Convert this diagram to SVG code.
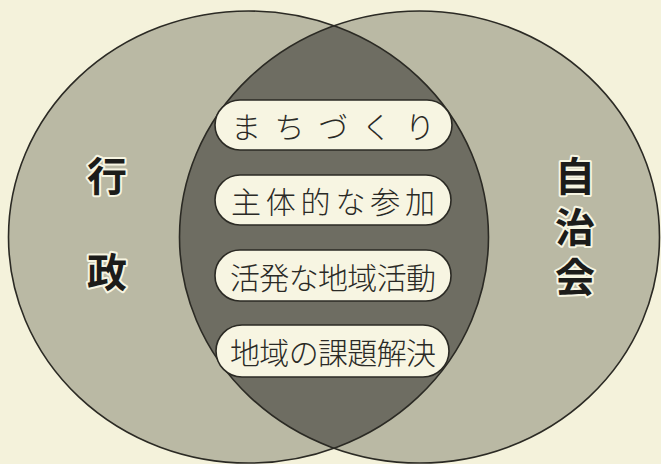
<svg xmlns="http://www.w3.org/2000/svg" width="661" height="464" viewBox="0 0 661 464">
<style>
.bg{fill:#f4f2db}
.circ{fill:#bab9a4}
.lens{fill:#6e6d62}
.outline{fill:none;stroke:#2b2a24;stroke-width:1.6}
.pill{fill:#f7f5e2;stroke:#2b2a24;stroke-width:1.6}
.pt{font-family:"Noto Sans CJK JP","Noto Sans",sans-serif;font-size:30px;font-weight:300;fill:#2a2a26;text-anchor:middle;dominant-baseline:central}
.big{font-family:"Noto Sans CJK JP","Noto Sans",sans-serif;font-size:40px;font-weight:bold;fill:#1c1c1a;stroke:#f7f5e2;stroke-width:4;stroke-linejoin:round;paint-order:stroke;writing-mode:vertical-rl;text-anchor:start}
</style>
<rect class="bg" x="0" y="0" width="661" height="464"/>
<g id="gyosei">
<ellipse class="circ" cx="248.5" cy="237" rx="240" ry="226"/>
</g>
<g id="jichikai">
<ellipse class="circ" cx="419.5" cy="237" rx="240" ry="226"/>
</g>
<g id="overlap">
<path class="lens" d="M334,25.8 A240,226 0 0,1 334,448.2 A240,226 0 0,1 334,25.8 Z"/>
</g>
<g id="outlines">
<ellipse class="outline" cx="248.5" cy="237" rx="240" ry="226"/>
<ellipse class="outline" cx="419.5" cy="237" rx="240" ry="226"/>
</g>
<g id="label-gyosei">
<text class="big" x="107" y="156" letter-spacing="56">行政</text>
</g>
<g id="label-jichikai">
<text class="big" x="575" y="156" letter-spacing="10.5">自治会</text>
</g>
<g id="pill1">
<rect class="pill" x="215" y="100" width="237" height="50" rx="25" ry="25"/>
<text class="pt" x="333" y="125" textLength="204" lengthAdjust="spacing">まちづくり</text>
</g>
<g id="pill2">
<rect class="pill" x="215" y="175" width="236" height="50" rx="25" ry="25"/>
<text class="pt" x="333" y="200" textLength="204" lengthAdjust="spacing">主体的な参加</text>
</g>
<g id="pill3">
<rect class="pill" x="215" y="250" width="236" height="51" rx="25" ry="25"/>
<text class="pt" x="333" y="275.5" textLength="206" lengthAdjust="spacing">活発な地域活動</text>
</g>
<g id="pill4">
<rect class="pill" x="216" y="325" width="233" height="52" rx="26" ry="26"/>
<text class="pt" x="333" y="351" textLength="206" lengthAdjust="spacing">地域の課題解決</text>
</g>
</svg>
